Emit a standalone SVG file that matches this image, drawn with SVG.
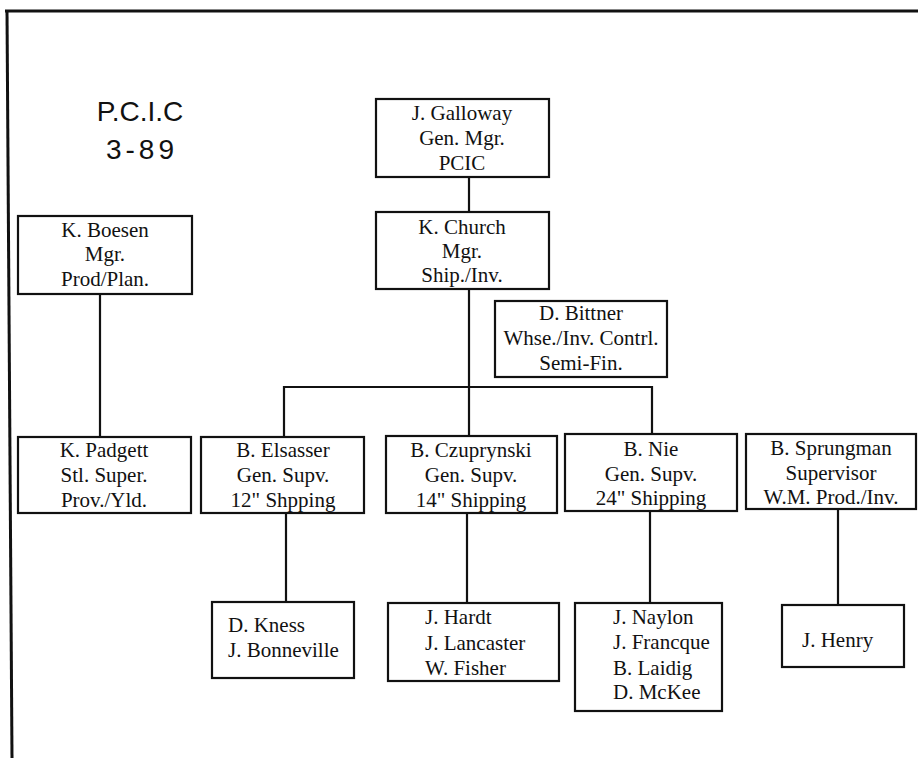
<svg xmlns="http://www.w3.org/2000/svg" width="918" height="758" viewBox="0 0 918 758">
<style>
.box{fill:#fff;stroke:#111;stroke-width:2.2}
.t{font-family:"Liberation Serif","Times New Roman",serif;font-size:21px;fill:#111;text-anchor:middle}
.l{font-family:"Liberation Serif","Times New Roman",serif;font-size:21px;fill:#111}
.title{font-family:"Liberation Sans",Arial,sans-serif;font-size:28px;fill:#111;text-anchor:middle}
.c{stroke:#111;stroke-width:2.2;fill:none}
</style>
<rect width="918" height="758" fill="#fff"/>
<g id="frame" class="c" stroke-width="3">
<line x1="5" y1="11" x2="918" y2="11" style="stroke-width:3"/>
<line x1="7" y1="11" x2="12" y2="758" style="stroke-width:3"/>
</g>
<g id="title">
<text class="title" x="140" y="121">P.C.I.C</text>
<text class="title" x="142" y="159" letter-spacing="4">3-89</text>
</g>
<g id="connectors" class="c">
<line x1="469" y1="177" x2="469" y2="212"/>
<line x1="469" y1="289" x2="469" y2="436"/>
<polyline points="284,436 284,387 652,387 652,436"/>
<line x1="100" y1="294" x2="100" y2="437"/>
<line x1="286" y1="513" x2="286" y2="602"/>
<line x1="467" y1="513" x2="467" y2="603"/>
<line x1="650" y1="511" x2="650" y2="603"/>
<line x1="838" y1="509" x2="838" y2="605"/>
</g>
<g id="galloway">
<rect class="box" x="376" y="99" width="173" height="78"/>
<text class="t" x="462" y="120">J. Galloway</text>
<text class="t" x="462" y="145">Gen. Mgr.</text>
<text class="t" x="462" y="170">PCIC</text>
</g>
<g id="church">
<rect class="box" x="376" y="212" width="173" height="77"/>
<text class="t" x="462" y="234">K. Church</text>
<text class="t" x="462" y="258">Mgr.</text>
<text class="t" x="462" y="282">Ship./Inv.</text>
</g>
<g id="bittner">
<rect class="box" x="495" y="301" width="172" height="76"/>
<text class="t" x="581" y="320">D. Bittner</text>
<text class="t" x="581" y="345">Whse./Inv. Contrl.</text>
<text class="t" x="581" y="370">Semi-Fin.</text>
</g>
<g id="boesen">
<rect class="box" x="18" y="216" width="174" height="78"/>
<text class="t" x="105" y="237">K. Boesen</text>
<text class="t" x="105" y="261">Mgr.</text>
<text class="t" x="105" y="286">Prod/Plan.</text>
</g>
<g id="padgett">
<rect class="box" x="18" y="437" width="173" height="76"/>
<text class="t" x="104" y="457">K. Padgett</text>
<text class="t" x="104" y="482">Stl. Super.</text>
<text class="t" x="104" y="507">Prov./Yld.</text>
</g>
<g id="elsasser">
<rect class="box" x="201" y="437" width="163" height="76"/>
<text class="t" x="283" y="457">B. Elsasser</text>
<text class="t" x="283" y="482">Gen. Supv.</text>
<text class="t" x="283" y="507">12" Shpping</text>
</g>
<g id="czuprynski">
<rect class="box" x="386" y="436" width="171" height="77"/>
<text class="t" x="471" y="457">B. Czuprynski</text>
<text class="t" x="471" y="482">Gen. Supv.</text>
<text class="t" x="471" y="507">14" Shipping</text>
</g>
<g id="nie">
<rect class="box" x="565" y="434" width="172" height="77"/>
<text class="t" x="651" y="456">B. Nie</text>
<text class="t" x="651" y="481">Gen. Supv.</text>
<text class="t" x="651" y="505">24" Shipping</text>
</g>
<g id="sprungman">
<rect class="box" x="746" y="434" width="170" height="75"/>
<text class="t" x="831" y="455">B. Sprungman</text>
<text class="t" x="831" y="480">Supervisor</text>
<text class="t" x="831" y="504">W.M. Prod./Inv.</text>
</g>
<g id="kness">
<rect class="box" x="212" y="602" width="142" height="76"/>
<text class="l" x="228" y="632">D. Kness</text>
<text class="l" x="228" y="657">J. Bonneville</text>
</g>
<g id="hardt">
<rect class="box" x="388" y="603" width="171" height="78"/>
<text class="l" x="425" y="624">J. Hardt</text>
<text class="l" x="425" y="650">J. Lancaster</text>
<text class="l" x="425" y="675">W. Fisher</text>
</g>
<g id="naylon">
<rect class="box" x="575" y="603" width="147" height="108"/>
<text class="l" x="613" y="624">J. Naylon</text>
<text class="l" x="613" y="649">J. Francque</text>
<text class="l" x="613" y="675">B. Laidig</text>
<text class="l" x="613" y="699">D. McKee</text>
</g>
<g id="henry">
<rect class="box" x="782" y="605" width="122" height="62"/>
<text class="l" x="802" y="647">J. Henry</text>
</g>
</svg>
